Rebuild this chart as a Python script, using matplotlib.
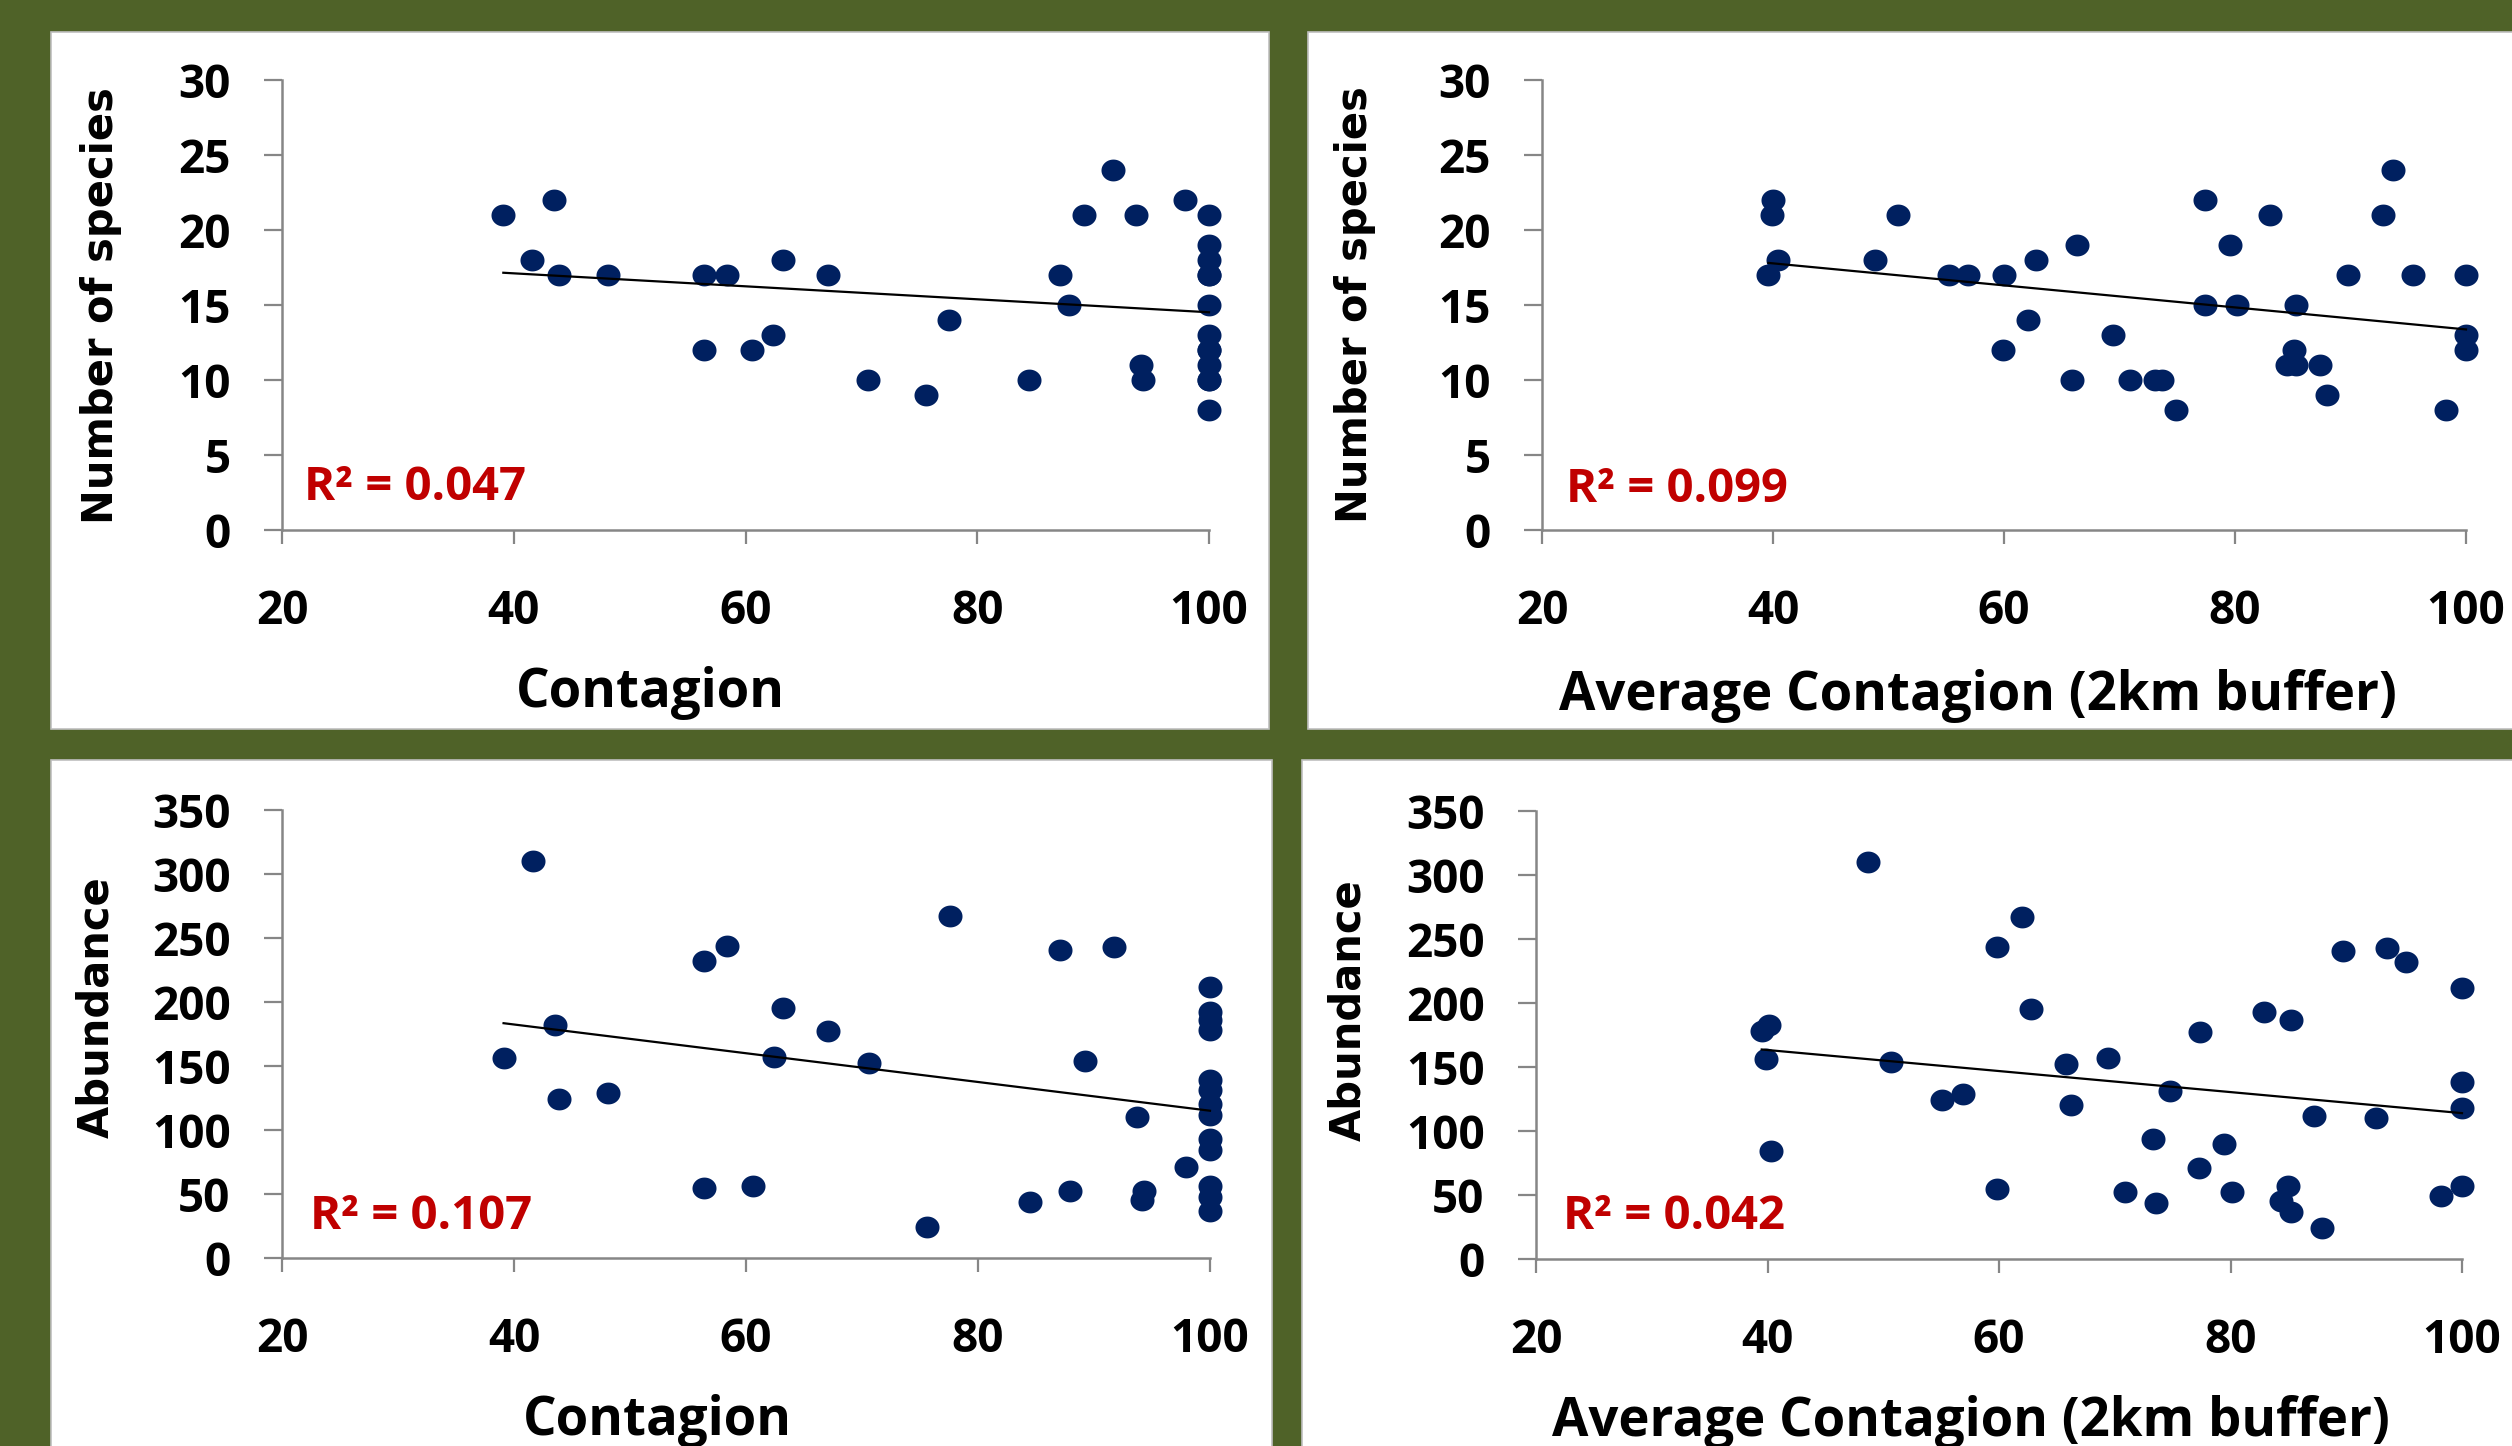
import numpy as np
import matplotlib
matplotlib.use("Agg")
import matplotlib.pyplot as plt
from matplotlib.path import Path
from matplotlib.patches import Rectangle

# ---------------- data ----------------
# Top-left: Number of species vs Contagion
tl_x = [39.1, 41.6, 43.5, 43.9, 48.1, 56.4, 58.4, 63.2, 67.1, 56.4, 60.6, 62.4,
        70.6, 75.6, 77.6, 84.5, 87.1, 87.9, 89.2, 91.7, 93.7, 94.1, 94.3, 97.9,
        100, 100, 100, 100, 100, 100, 100, 100, 100, 100, 100, 100, 100]
tl_y = [21, 18, 22, 17, 17, 17, 17, 18, 17, 12, 12, 13,
        10, 9, 14, 10, 17, 15, 21, 24, 21, 11, 10, 22,
        21, 19, 18, 17, 17, 15, 13, 12, 12, 11, 10, 10, 8]

# Top-right: Number of species vs Average Contagion (2km buffer)
tr_x = [39.6, 39.9, 40.0, 40.4, 48.8, 50.8, 55.2, 56.9, 60.0, 59.9, 62.1, 62.8,
        66.3, 65.9, 69.4, 70.9, 73.1, 73.7, 74.9, 77.4, 77.4, 79.6, 80.2, 83.0,
        84.5, 85.1, 85.3, 85.3, 87.4, 88.0, 89.8, 92.8, 93.7, 95.4, 98.3,
        100, 100, 100]
tr_y = [17, 21, 22, 18, 18, 21, 17, 17, 17, 12, 14, 18,
        19, 10, 13, 10, 10, 10, 8, 22, 15, 19, 15, 21,
        11, 12, 11, 15, 11, 9, 17, 21, 24, 17, 8,
        17, 13, 12]

# Bottom-left: Abundance vs Contagion
bl_x = tl_x
bl_y = [156, 310, 182, 124, 129, 232, 244, 195, 177, 55, 56, 157,
        152, 24, 267, 44, 241, 52, 154, 243, 110, 45, 52, 71,
        212, 192, 186, 178, 139, 131, 120, 112, 93, 84, 56, 48, 37]

# Bottom-right: Abundance vs Average Contagion (2km buffer)
br_x = [39.5, 40.1, 39.9, 40.3, 48.7, 50.7, 55.1, 56.9, 59.8, 59.8, 62.0, 62.8,
        65.8, 66.2, 69.4, 70.9, 73.3, 73.6, 74.8, 77.4, 77.3, 79.4, 80.1, 82.9,
        85.0, 84.4, 85.2, 85.2, 87.2, 87.9, 89.7, 92.6, 93.5, 95.2, 98.2,
        100, 100, 100, 100]
br_y = [178, 183, 156, 84, 310, 154, 124, 129, 244, 55, 267, 195,
        152, 120, 157, 52, 94, 44, 131, 177, 71, 90, 52, 193,
        57, 45, 37, 187, 112, 24, 241, 110, 243, 232, 49,
        212, 138, 118, 57]

r2_labels = ["R\u00b2 = 0.047", "R\u00b2 = 0.099", "R\u00b2 = 0.107", "R\u00b2 = 0.042"]
x_labels = ["Contagion", "Average Contagion (2km buffer)", "Contagion",
            "Average Contagion (2km buffer)"]
y_labels = ["Number of species", "Number of species", "Abundance", "Abundance"]
x_ticks = [20, 40, 60, 80, 100]
y_ticks_species = [0, 5, 10, 15, 20, 25, 30]
y_ticks_abund = [0, 50, 100, 150, 200, 250, 300, 350]

# ---------------- style ----------------
W, H = 2512, 1446
BG = "#4F6228"
DOT = "#002060"
RED = "#C00000"
AXC = "#868686"
TICKFONT = "Open Sans"
LABFONT = "DejaVu Sans"

fig = plt.figure(figsize=(W / 100, H / 100), dpi=100, facecolor=BG)

# white panels (pixel boxes: x0, x1, ytop, ybottom)
panel_boxes = [(51, 1269, 32, 729), (1308, 2560, 32, 729),
               (51, 1272, 760, 1500), (1302, 2560, 760, 1500)]
for x0, x1, yt, yb in panel_boxes:
    fig.add_artist(Rectangle((x0 / W, 1 - yb / H), (x1 - x0) / W, (yb - yt) / H,
                             transform=fig.transFigure, facecolor="white",
                             edgecolor="#BFBFBF", lw=1.2, zorder=0))

# axes boxes (pixel): x0 (=20), x1 (=100), ytop, ybottom
axes_boxes = [(282, 1209, 80, 530), (1542, 2466, 80, 530),
              (282, 1210, 810, 1258), (1536, 2462, 811, 1259)]

ylabel_pos = [(-0.195, 0.498), (-0.202, 0.50), (-0.200, 0.560), (-0.203, 0.555)]
xlabel_pos = [(0.397, -0.393), (0.472, -0.399), (0.404, -0.395), (0.470, -0.395)]
r2_pos = [(0.024, 0.067), (0.026, 0.062), (0.030, 0.065), (0.029, 0.067)]

theta = np.linspace(0, 2 * np.pi, 72)
ell = Path(np.column_stack([1.1 * np.cos(theta), np.sin(theta)]), closed=True)

datasets = [(tl_x, tl_y, 30, y_ticks_species), (tr_x, tr_y, 30, y_ticks_species),
            (bl_x, bl_y, 350, y_ticks_abund), (br_x, br_y, 350, y_ticks_abund)]

for i, ((xs, ys, ymax, yt), (x0, x1, ytop, ybot)) in enumerate(zip(datasets, axes_boxes)):
    ax = fig.add_axes([x0 / W, 1 - ybot / H, (x1 - x0) / W, (ybot - ytop) / H])
    ax.set_facecolor("none")
    xs = np.asarray(xs, float)
    ys = np.asarray(ys, float)
    ax.plot(xs, ys, ls="none", marker=ell, ms=17.3, color=DOT, mew=0, zorder=3,
            clip_on=False)
    m, b = np.polyfit(xs, ys, 1)
    xl = np.array([xs.min(), xs.max()])
    ax.plot(xl, m * xl + b, color="black", lw=1.6, zorder=4, clip_on=False)

    ax.set_xlim(20, 100)
    ax.set_ylim(0, ymax)
    ax.set_xticks(x_ticks)
    ax.set_yticks(yt)
    for s in ("top", "right"):
        ax.spines[s].set_visible(False)
    for s in ("left", "bottom"):
        ax.spines[s].set_color(AXC)
        ax.spines[s].set_linewidth(1.8)
    ax.tick_params(axis="y", direction="out", length=13, width=1.6, color=AXC, pad=24)
    ax.tick_params(axis="x", direction="out", length=10, width=1.6, color=AXC, pad=32)
    for lab in ax.get_xticklabels() + ax.get_yticklabels():
        lab.set_fontfamily(TICKFONT)
        lab.set_fontweight("bold")
        lab.set_fontsize(33)
        lab.set_color("black")

    ax.set_ylabel(y_labels[i], fontfamily=LABFONT, fontweight="bold", fontsize=30,
                  va="center")
    ax.yaxis.set_label_coords(*ylabel_pos[i])
    ax.set_xlabel(x_labels[i], fontfamily=TICKFONT, fontweight="bold", fontsize=38,
                  va="baseline")
    ax.xaxis.set_label_coords(*xlabel_pos[i])

    ax.text(r2_pos[i][0], r2_pos[i][1], r2_labels[i], transform=ax.transAxes,
            color=RED, fontfamily=TICKFONT, fontweight="bold", fontsize=34,
            ha="left", va="baseline")

fig.savefig("out.png", dpi=100, facecolor=BG)
